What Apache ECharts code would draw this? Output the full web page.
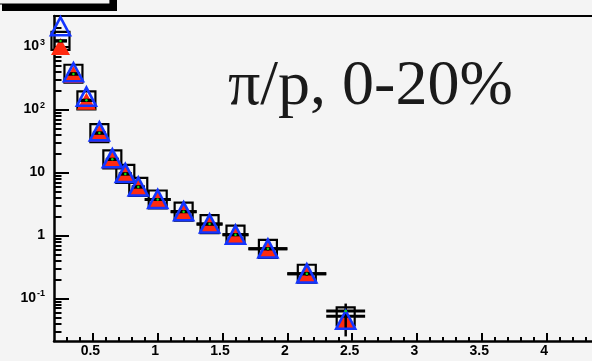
<!DOCTYPE html>
<html>
<head>
<meta charset="utf-8">
<script src="https://cdn.jsdelivr.net/npm/echarts@6/dist/echarts.min.js"></script>
<style>
html,body{margin:0;padding:0;background:#f4f4f4;}
#chart{width:592px;height:361px;}
</style>
</head>
<body>
<div id="chart"></div>
<script>
// ---- data ----
const xVals  = [0.25, 0.35, 0.45, 0.55, 0.65, 0.75, 0.85, 1.0, 1.2, 1.4, 1.6, 1.85, 2.15, 2.45];
const xLow   = [0.2, 0.3, 0.4, 0.5, 0.6, 0.7, 0.8, 0.9, 1.1, 1.3, 1.5, 1.7, 2.0, 2.3];
const xHigh  = [0.3, 0.4, 0.5, 0.6, 0.7, 0.8, 0.9, 1.1, 1.3, 1.5, 1.7, 2.0, 2.3, 2.6];
const squareVals  = [1230, 370, 140, 42.3, 16.2, 9.5, 5.9, 3.73, 2.39, 1.52, 1.03, 0.615, 0.247, 0.052];
const squareYLow  = [1190, 360, 136, 41.2, 15.8, 9.2, 5.7, 3.6, 2.3, 1.46, 0.98, 0.58, 0.23, 0.025];
const squareYHigh = [1270, 380, 144, 43.4, 16.6, 9.8, 6.1, 3.86, 2.48, 1.58, 1.08, 0.65, 0.265, 0.083];
const redVals   = [1000, 360, 135, 42, 16, 9.4, 5.8, 3.7, 2.38, 1.5, 0.98, 0.6, 0.245, 0.046];
const blueVals  = [2100, 390, 160, 45, 16.8, 9.8, 6.0, 3.8, 2.42, 1.55, 1.03, 0.62, 0.25, 0.046];
const greenVals = [1230, 365, 140, 42.3, 16.2, 9.5, 5.9, 3.73, 2.39, 1.52, 1.03, 0.615, 0.247, 0.063];
const xMajorTicks = [0.5, 1, 1.5, 2, 2.5, 3, 3.5, 4];
const xMinorTicks = [0.3, 0.4, 0.6, 0.7, 0.8, 0.9, 1.1, 1.2, 1.3, 1.4, 1.6, 1.7, 1.8, 1.9, 2.1, 2.2, 2.3, 2.4,
                     2.6, 2.7, 2.8, 2.9, 3.1, 3.2, 3.3, 3.4, 3.6, 3.7, 3.8, 3.9, 4.1, 4.2, 4.3];
const yDecades = [0.1, 1, 10, 100, 1000];
const yDecadeLabels = ['10^-1', '1', '10', '10^2', '10^3'];
const yMinorTicks = [0.02, 0.03, 0.04, 0.05, 0.06, 0.07, 0.08, 0.09,
                     0.2, 0.3, 0.4, 0.5, 0.6, 0.7, 0.8, 0.9,
                     2, 3, 4, 5, 6, 7, 8, 9,
                     20, 30, 40, 50, 60, 70, 80, 90,
                     200, 300, 400, 500, 600, 700, 800, 900, 2000];
const titleText = 'π/p, 0-20%';

// ---- build ----
const L = Math.log10;
const X_MIN = 0.2, X_MAX = 4.35, Y_MIN = -1.675, Y_MAX = 3.485;

function pts(vals) { return xVals.map((x, i) => [x, L(vals[i])]); }
function errData(vals, withY) {
  return xVals.map((x, i) => [x, L(vals[i]), xLow[i], xHigh[i],
    withY ? L(squareYLow[i]) : L(vals[i]), withY ? L(squareYHigh[i]) : L(vals[i])]);
}
function errRender(params, api) {
  const c = api.coord([api.value(0), api.value(1)]);
  const lo = api.coord([api.value(2), api.value(1)]);
  const hi = api.coord([api.value(3), api.value(1)]);
  const yl = api.coord([api.value(0), api.value(4)]);
  const yh = api.coord([api.value(0), api.value(5)]);
  const style = { stroke: '#000', lineWidth: 3 };
  const children = [
    { type: 'line', shape: { x1: lo[0], y1: c[1], x2: hi[0], y2: c[1] }, style: style }
  ];
  if (Math.abs(yl[1] - yh[1]) > 0.5) {
    children.push({ type: 'line', shape: { x1: c[0], y1: yl[1], x2: c[0], y2: yh[1] }, style: { stroke: '#000', lineWidth: 2.5 } });
  }
  return { type: 'group', children: children };
}
const labelMap = {};
yDecades.forEach((v, i) => { labelMap[L(v).toFixed(3)] = yDecadeLabels[i]; });
function yFmt(v) {
  const s = labelMap[Number(v).toFixed(3)] || '';
  if (s.indexOf('^') >= 0) {
    const p = s.split('^');
    return '{b|' + p[0] + '}{s|' + p[1] + '}';
  }
  return '{b|' + s + '}';
}

const chart = echarts.init(document.getElementById('chart'), null, { renderer: 'canvas' });
const axisFont = { fontFamily: 'Liberation Sans, Arial, sans-serif', fontWeight: 'bold', color: '#000' };
const option = {
  backgroundColor: '#f4f4f4',
  animation: false,
  grid: { left: 54, right: 0, top: 16, bottom: 20, containLabel: false },
  xAxis: [
    { type: 'value', min: X_MIN, max: X_MAX, position: 'bottom', gridIndex: 0,
      axisLine: { show: true, onZero: false, lineStyle: { color: '#000', width: 2.5 } },
      axisTick: { show: true, inside: true, length: 8, customValues: xMajorTicks, lineStyle: { color: '#000', width: 2 } },
      axisLabel: Object.assign({ show: true, customValues: xMajorTicks, fontSize: 14, margin: 3, padding: [0, 5, 0, 0],
        formatter: v => String(v) }, axisFont),
      splitLine: { show: false } },
    { type: 'value', min: X_MIN, max: X_MAX, position: 'bottom', gridIndex: 0,
      axisLine: { show: false, onZero: false },
      axisTick: { show: true, inside: true, length: 4, customValues: xMinorTicks, lineStyle: { color: '#000', width: 2 } },
      axisLabel: { show: false }, splitLine: { show: false } },
    { type: 'value', min: X_MIN, max: X_MAX, position: 'top', gridIndex: 0,
      axisLine: { show: true, onZero: false, lineStyle: { color: '#000', width: 2 } },
      axisTick: { show: false }, axisLabel: { show: false }, splitLine: { show: false } }
  ],
  yAxis: [
    { type: 'value', min: Y_MIN, max: Y_MAX, position: 'left',
      axisLine: { show: true, onZero: false, lineStyle: { color: '#000', width: 2.5 } },
      axisTick: { show: true, inside: true, length: 15, customValues: yDecades.map(L), lineStyle: { color: '#000', width: 2 } },
      axisLabel: { show: true, customValues: yDecades.map(L), margin: 9, formatter: yFmt,
        rich: {
          b: Object.assign({ fontSize: 14 }, axisFont),
          s: Object.assign({ fontSize: 9, padding: [0, 0, 9, 1] }, axisFont)
        } },
      splitLine: { show: false } },
    { type: 'value', min: Y_MIN, max: Y_MAX, position: 'left',
      axisLine: { show: false, onZero: false },
      axisTick: { show: true, inside: true, length: 7.5, customValues: yMinorTicks.map(L), lineStyle: { color: '#000', width: 2 } },
      axisLabel: { show: false }, splitLine: { show: false } }
  ],
  series: [
    { name: 'squares', type: 'scatter', clip: false, z: 2, data: pts(squareVals),
      symbol: 'rect', symbolSize: 18,
      itemStyle: { color: 'rgba(0,0,0,0)', borderColor: '#000', borderWidth: 2.2, opacity: 1 } },
    { name: 'red', type: 'scatter', clip: false, z: 3, data: pts(redVals),
      symbol: 'triangle', symbolSize: [19, 17],
      itemStyle: { color: '#ff2a10', opacity: 1 } },
    { name: 'errSquares', type: 'custom', clip: false, z: 4, renderItem: errRender, data: errData(squareVals, true) },
    { name: 'errGreen', type: 'custom', clip: false, z: 4, renderItem: errRender, data: errData(greenVals, false) },
    { name: 'blue', type: 'scatter', clip: false, z: 5, data: pts(blueVals),
      symbol: 'triangle', symbolSize: [19, 18],
      itemStyle: { color: 'rgba(0,0,0,0)', borderColor: '#1435ff', borderWidth: 2.6, opacity: 1 } },
    { name: 'green', type: 'scatter', clip: false, z: 6, data: pts(greenVals),
      symbol: 'circle', symbolSize: 2.5,
      itemStyle: { color: '#10e010', opacity: 1 } }
  ],
  graphic: [
    { type: 'rect', z: 10, shape: { x: 2, y: -25, width: 115, height: 36 }, style: { fill: '#000' } },
    { type: 'rect', z: 11, shape: { x: -6, y: -32, width: 116, height: 36 }, style: { fill: '#f4f4f4', stroke: '#000', lineWidth: 1.2 } },
    { type: 'text', z: 12, x: 228, y: 55,
      style: { text: titleText, font: '64px "Liberation Serif", "Times New Roman", serif', fill: '#1a1a1a',
               textAlign: 'left', textVerticalAlign: 'top', verticalAlign: 'top' } }
  ]
};
chart.setOption(option);
</script>
</body>
</html>
